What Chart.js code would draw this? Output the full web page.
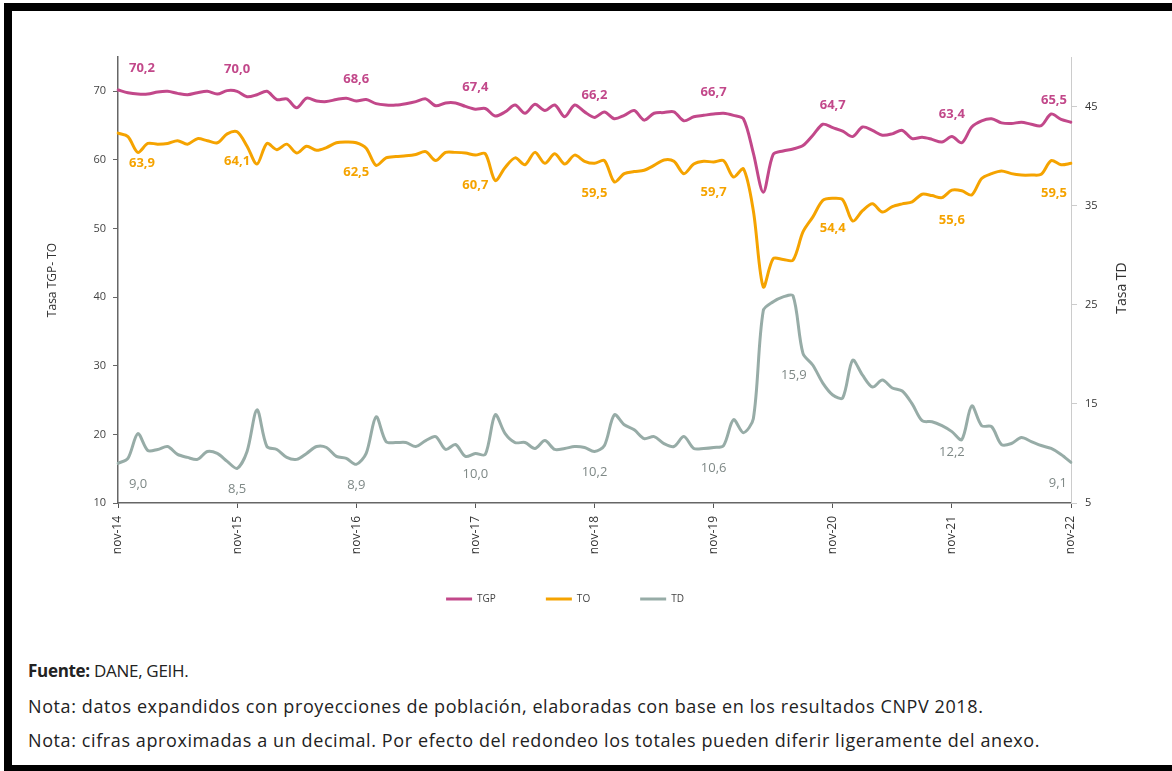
<!DOCTYPE html>
<html lang="es">
<head>
<meta charset="utf-8">
<title>Tasas TGP, TO y TD</title>
<script src="https://cdn.jsdelivr.net/npm/chart.js@4/dist/chart.umd.min.js"></script>
<style>
  html, body { margin: 0; padding: 0; background: #fff; overflow: hidden; }
  body { width: 1172px; height: 771px; position: relative; font-family: "Open Sans", sans-serif; }
  #marco { position: absolute; left: 4px; top: 3px; width: 1180px; height: 754px;
           border-left: 8px solid #000; border-top: 8px solid #000; border-bottom: 6px solid #000; }
  #grafico { position: absolute; left: 0; top: 0; width: 1172px; height: 631px; }
  #notas { position: absolute; left: 28px; top: 654px; font-size: 18px; line-height: 34.5px; color: #222; letter-spacing: 0.6px; }
  #notas .fuente { font-size: 17px; letter-spacing: -0.3px; }
  #notas b { font-weight: 700; }
</style>
</head>
<body>
<div id="marco"></div>
<div id="grafico"><canvas id="chart"></canvas></div>
<div id="notas">
  <div class="fuente"><b>Fuente:</b> DANE, GEIH.</div>
  <div>Nota: datos expandidos con proyecciones de población, elaboradas con base en los resultados CNPV 2018.</div>
  <div>Nota: cifras aproximadas a un decimal. Por efecto del redondeo los totales pueden diferir ligeramente del anexo.</div>
</div>
<script>
// Meses (nov-14 a nov-22)
const meses = [
  'nov-14','dic-14',
  'ene-15','feb-15','mar-15','abr-15','may-15','jun-15','jul-15','ago-15','sep-15','oct-15','nov-15','dic-15',
  'ene-16','feb-16','mar-16','abr-16','may-16','jun-16','jul-16','ago-16','sep-16','oct-16','nov-16','dic-16',
  'ene-17','feb-17','mar-17','abr-17','may-17','jun-17','jul-17','ago-17','sep-17','oct-17','nov-17','dic-17',
  'ene-18','feb-18','mar-18','abr-18','may-18','jun-18','jul-18','ago-18','sep-18','oct-18','nov-18','dic-18',
  'ene-19','feb-19','mar-19','abr-19','may-19','jun-19','jul-19','ago-19','sep-19','oct-19','nov-19','dic-19',
  'ene-20','feb-20','mar-20','abr-20','may-20','jun-20','jul-20','ago-20','sep-20','oct-20','nov-20','dic-20',
  'ene-21','feb-21','mar-21','abr-21','may-21','jun-21','jul-21','ago-21','sep-21','oct-21','nov-21','dic-21',
  'ene-22','feb-22','mar-22','abr-22','may-22','jun-22','jul-22','ago-22','sep-22','oct-22','nov-22'
];

// Tasa global de participación
const tgp = [
  70.2, 69.8, 69.6, 69.6, 69.9, 70.0, 69.7, 69.5, 69.8, 70.0, 69.6, 70.1,
  70.0, 69.2, 69.5, 70.0, 68.8, 68.9, 67.6, 69.0, 68.6, 68.5, 68.8, 69.0,
  68.6, 68.8, 68.2, 68.0, 68.0, 68.2, 68.5, 68.9, 67.9, 68.3, 68.3, 67.8,
  67.4, 67.5, 66.4, 67.0, 68.0, 66.8, 68.1, 67.2, 68.0, 66.3, 68.0, 67.0,
  66.2, 67.0, 66.0, 66.5, 67.2, 65.8, 66.8, 66.9, 67.0, 65.7, 66.3, 66.5,
  66.7, 66.8, 66.5, 66.0, 61.0, 55.3, 60.8, 61.3, 61.6, 62.1, 63.6, 65.2,
  64.7, 64.2, 63.4, 64.8, 64.3, 63.6, 63.8, 64.3, 63.1, 63.3, 63.0, 62.6,
  63.4, 62.5, 64.8, 65.7, 66.0, 65.4, 65.3, 65.5, 65.2, 65.0, 66.7, 65.9,
  65.5
];

// Tasa de ocupación
const to = [
  63.9, 63.4, 61.1, 62.4, 62.3, 62.4, 62.8, 62.3, 63.1, 62.8, 62.5, 63.8,
  64.1, 62.0, 59.4, 62.4, 61.5, 62.3, 61.0, 62.0, 61.4, 61.8, 62.5, 62.6,
  62.5, 61.7, 59.2, 60.3, 60.5, 60.6, 60.8, 61.2, 59.9, 61.1, 61.1, 61.0,
  60.7, 60.9, 57.0, 58.9, 60.3, 59.3, 61.1, 59.5, 60.9, 59.4, 60.7, 59.8,
  59.5, 59.9, 56.8, 58.0, 58.3, 58.5, 59.2, 60.0, 59.8, 58.0, 59.4, 59.8,
  59.7, 59.9, 57.5, 58.7, 52.6, 41.5, 45.6, 45.5, 45.4, 49.5, 51.7, 54.1,
  54.4, 54.2, 51.1, 52.6, 53.6, 52.4, 53.2, 53.6, 53.9, 55.0, 54.8, 54.5,
  55.6, 55.5, 54.9, 57.3, 58.0, 58.4, 58.0, 57.8, 57.8, 57.9, 59.9, 59.3,
  59.5
];

// Tasa de desocupación (eje derecho)
const td = [
  9.0, 9.5, 12.0, 10.3, 10.4, 10.7, 9.9, 9.6, 9.4, 10.2, 10.0, 9.2,
  8.5, 10.2, 14.4, 10.7, 10.4, 9.6, 9.4, 10.0, 10.7, 10.6, 9.7, 9.5,
  8.9, 10.0, 13.7, 11.2, 11.1, 11.1, 10.7, 11.3, 11.7, 10.4, 10.9, 9.7,
  10.0, 9.9, 13.9, 12.0, 11.1, 11.1, 10.5, 11.3, 10.4, 10.5, 10.7, 10.6,
  10.2, 10.8, 13.9, 12.9, 12.4, 11.5, 11.7, 11.0, 10.7, 11.7, 10.5, 10.5,
  10.6, 10.8, 13.4, 12.1, 13.5, 24.4, 25.3, 25.8, 25.9, 20.1, 18.9, 17.1,
  15.9, 15.6, 19.4, 17.9, 16.7, 17.4, 16.6, 16.3, 15.0, 13.3, 13.2, 12.8,
  12.2, 11.4, 14.8, 12.8, 12.7, 10.9, 11.0, 11.6, 11.2, 10.8, 10.5, 9.9,
  9.1
];

// Meses con etiqueta (noviembres) y marcas de los ejes
const mesesEtiqueta = ['nov-14','nov-15','nov-16','nov-17','nov-18','nov-19','nov-20','nov-21','nov-22'];
const ticksTasas = [10, 20, 30, 40, 50, 60, 70];
const ticksTD = [5, 15, 25, 35, 45];

const colores = { tgp: '#c2488a', to: '#f5a300', td: '#97aca7' };
const fuente = '"Open Sans", sans-serif';

// estilo de las etiquetas de valor de cada serie
const estiloEtiqueta = [
  { font: 'bold 13px ' + fuente, color: colores.tgp, dy: -22 },
  { font: 'bold 13px ' + fuente, color: colores.to, dy: 30 },
  { font: '13px ' + fuente, color: '#7e8886', dy: 21, izquierda: ['nov-20'] }
];

const pluginEtiquetas = {
  id: 'etiquetas',
  beforeDraw(chart) {
    // leyenda mas cerca del eje x
    chart.legend.top = chart.chartArea.bottom + 41;
  },
  afterDatasetsDraw(chart) {
    const ctx = chart.ctx;
    chart.data.datasets.forEach((ds, d) => {
      const meta = chart.getDatasetMeta(d);
      const st = estiloEtiqueta[d];
      ctx.save();
      ctx.font = st.font;
      ctx.fillStyle = st.color;
      ctx.textBaseline = 'middle';
      mesesEtiqueta.forEach(m => {
        const i = meses.indexOf(m);
        const p = meta.data[i];
        let x = p.x, y = p.y + st.dy, align = 'center';
        if (i === 0) { align = 'left'; x += 11; }
        else if (i === meses.length - 1) { align = 'right'; x -= 4; }
        if (st.izquierda && st.izquierda.includes(m)) { align = 'right'; x -= 26; y = p.y - 20; }
        ctx.textAlign = align;
        ctx.fillText(ds.data[i].toFixed(1).replace('.', ','), x, y);
      });
      ctx.restore();
    });
  },
  afterDraw(chart) {
    // titulo del eje derecho, leido de abajo hacia arriba
    const ctx = chart.ctx;
    const eje = chart.scales.y1;
    ctx.save();
    ctx.translate(1122, (eje.top + eje.bottom) / 2 + 8);
    ctx.rotate(-Math.PI / 2);
    ctx.font = '14px ' + fuente;
    ctx.fillStyle = '#333';
    ctx.textAlign = 'center';
    ctx.textBaseline = 'middle';
    ctx.fillText('Tasa TD', 0, 0);
    ctx.restore();
  }
};

const ctx = document.getElementById('chart').getContext('2d');
new Chart(ctx, {
  type: 'line',
  data: {
    labels: meses,
    datasets: [
      { label: 'TGP', data: tgp, borderColor: colores.tgp, backgroundColor: colores.tgp, yAxisID: 'y' },
      { label: 'TO', data: to, borderColor: colores.to, backgroundColor: colores.to, yAxisID: 'y' },
      { label: 'TD', data: td, borderColor: colores.td, backgroundColor: colores.td, yAxisID: 'y1' }
    ]
  },
  options: {
    responsive: true,
    maintainAspectRatio: false,
    animation: false,
    layout: { padding: { top: 57, left: 0, right: 42, bottom: 0 } },
    elements: {
      line: { borderWidth: 3, tension: 0.3, borderCapStyle: 'round', borderJoinStyle: 'round' },
      point: { radius: 0, hoverRadius: 0 }
    },
    plugins: {
      tooltip: { enabled: false },
      legend: {
        position: 'bottom',
        align: 'center',
        labels: {
          boxWidth: 26,
          boxHeight: 3,
          padding: 50,
          color: '#444',
          font: { size: 10, family: fuente },
          generateLabels: (chart) =>
            Chart.defaults.plugins.legend.labels.generateLabels(chart).map(l => ({ ...l, lineWidth: 0 }))
        }
      }
    },
    scales: {
      x: {
        afterFit: (scale) => { scale.height = 58; },
        grid: { drawOnChartArea: false, drawTicks: true, tickLength: 5, color: '#555' },
        border: { color: '#666', width: 1.5 },
        ticks: {
          autoSkip: false,
          maxRotation: 90,
          minRotation: 90,
          padding: 8,
          color: '#333',
          font: { size: 12, family: fuente },
          callback: function (val, i) {
            const m = meses[i];
            return mesesEtiqueta.includes(m) ? m : null;
          }
        }
      },
      y: {
        position: 'left',
        min: 10,
        max: 75,
        afterFit: (scale) => { scale.width = 118; },
        afterBuildTicks: (scale) => { scale.ticks = ticksTasas.map(v => ({ value: v })); },
        grid: { drawOnChartArea: false, drawTicks: true, tickLength: 5, color: '#666' },
        border: { color: '#666', width: 1.5 },
        ticks: { padding: 7, color: '#444', font: { size: 11, family: fuente } },
        title: { display: true, text: 'Tasa TGP- TO', color: '#333', font: { size: 12, family: fuente }, padding: { top: 45, bottom: 4 } }
      },
      y1: {
        position: 'right',
        min: 5,
        max: 50,
        afterFit: (scale) => { scale.width = 59; },
        afterBuildTicks: (scale) => { scale.ticks = ticksTD.map(v => ({ value: v })); },
        grid: { drawOnChartArea: false, drawTicks: true, tickLength: 6, color: '#ccc' },
        border: { color: '#ccc', width: 1 },
        ticks: { padding: 8, color: '#333', font: { size: 11, family: fuente } }
      }
    }
  },
  plugins: [pluginEtiquetas]
});
</script>
</body>
</html>
